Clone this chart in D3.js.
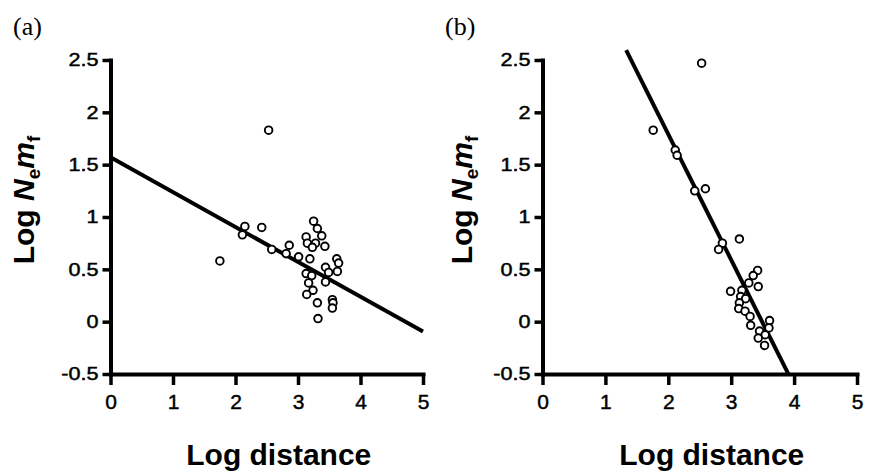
<!DOCTYPE html>
<html>
<head>
<meta charset="utf-8">
<script src="https://cdn.jsdelivr.net/npm/d3@7"></script>
<style>
  html, body { margin: 0; padding: 0; background: #fff; }
  svg { display: block; }
</style>
</head>
<body>
<svg id="chart" width="870" height="472"></svg>
<script>
// ---- data ----
const panelLabels = ["(a)", "(b)"];
const xTicks = [0, 1, 2, 3, 4, 5];
const yTicks = [-0.5, 0, 0.5, 1, 1.5, 2, 2.5];
const xTitle = "Log distance";

const aX = [2.53,1.75,2.15,2.11,2.42,2.58,2.81,2.86,3.01,3.25,3.31,3.38,3.13,3.15,3.28,3.23,3.43,3.19,3.62,3.65,3.44,3.49,3.63,3.13,3.22,3.44,3.17,3.24,3.14,3.31,3.55,3.56,3.55,3.32];
const aY = [1.83,0.58,0.91,0.83,0.90,0.69,0.65,0.73,0.62,0.96,0.89,0.82,0.81,0.75,0.75,0.71,0.72,0.60,0.60,0.56,0.52,0.47,0.48,0.46,0.44,0.38,0.37,0.30,0.26,0.18,0.21,0.18,0.13,0.03];
const aFit = [1.57, -0.333];     // intercept, slope
const aFitRange = [0, 5];

const bX = [2.53,1.76,2.11,2.14,2.42,2.59,2.86,2.80,3.13,3.42,3.35,3.28,3.43,2.99,3.17,3.15,3.23,3.13,3.12,3.22,3.30,3.31,3.61,3.60,3.45,3.54,3.43,3.53];
const bY = [2.47,1.83,1.64,1.59,1.25,1.27,0.75,0.69,0.79,0.49,0.44,0.37,0.335,0.29,0.30,0.24,0.22,0.18,0.125,0.10,0.05,-0.035,0.01,-0.06,-0.09,-0.125,-0.157,-0.227];
const bFit = [4.19, -1.2];
const bFitRange = [1.33, 3.91];

// ---- layout ----
const svg = d3.select("#chart");
const panels = [
  {label: panelLabels[0], xs: aX, ys: aY, fit: aFit, fitRange: aFitRange, left: 110.5, right: 423, labelX: 13, titleX: 33.5},
  {label: panelLabels[1], xs: bX, ys: bY, fit: bFit, fitRange: bFitRange, left: 542.5, right: 857, labelX: 445, titleX: 472}
];
const plotTop = 60, plotBottom = 374;
const yLabelStretch = 1.2;

panels.forEach(p => {
  const x = d3.scaleLinear().domain([0, 5]).range([p.left, p.right]);
  const y = d3.scaleLinear().domain([-0.5, 2.5]).range([plotBottom, plotTop]);
  const g = svg.append("g");

  // regression line
  const line = d3.line().x(d => x(d)).y(d => y(p.fit[0] + p.fit[1] * d));
  g.append("path")
    .datum(p.fitRange)
    .attr("d", line)
    .attr("fill", "none")
    .attr("stroke", "#000")
    .attr("stroke-width", 4);

  // points
  g.selectAll("circle.pt")
    .data(p.xs.map((v, i) => [v, p.ys[i]]))
    .join("circle")
    .attr("class", "pt")
    .attr("cx", d => x(d[0]))
    .attr("cy", d => y(d[1]))
    .attr("r", 3.8)
    .attr("fill", "#fff")
    .attr("stroke", "#000")
    .attr("stroke-width", 1.9);

  // axes
  const xAxis = d3.axisBottom(x).tickValues(xTicks).tickFormat(d3.format("d"))
    .tickSize(11).tickSizeOuter(0).tickPadding(9);
  const yAxis = d3.axisLeft(y).tickValues(yTicks).tickFormat(d => d === -0.5 ? "-0.5" : String(d))
    .tickSize(8).tickSizeOuter(0).tickPadding(4);

  const gx = g.append("g").attr("transform", `translate(0,${plotBottom})`).call(xAxis);
  const gy = g.append("g").attr("transform", `translate(${p.left},0)`).call(yAxis);

  [gx, gy].forEach(ax => {
    ax.select(".domain").attr("stroke", "#000").attr("stroke-width", 4).attr("stroke-linecap", "square");
    ax.selectAll(".tick line").attr("stroke", "#000").attr("stroke-width", 3.5);
    ax.selectAll(".tick text").attr("fill", "#000")
      .attr("stroke", "#000").attr("stroke-width", 0.45)
      .style("font-family", "Liberation Sans, Arial, sans-serif");
  });
  gx.selectAll(".tick text").style("font-size", "21px");
  gy.selectAll(".tick text").style("font-size", "18px")
    .attr("x", -12 / yLabelStretch)
    .attr("transform", `scale(${yLabelStretch},1)`);

  // x title
  g.append("text")
    .attr("x", (p.left + p.right) / 2 + 12)
    .attr("y", 465)
    .attr("text-anchor", "middle")
    .style("font-family", "Liberation Sans, Arial, sans-serif")
    .style("font-weight", "bold")
    .style("font-size", "30px")
    .text(xTitle);

  // y title
  const yt = g.append("text")
    .attr("transform", `translate(${p.titleX},200) rotate(-90)`)
    .attr("text-anchor", "middle")
    .style("font-family", "Liberation Sans, Arial, sans-serif")
    .style("font-weight", "bold")
    .style("font-size", "30px");
  yt.append("tspan").text("Log ");
  yt.append("tspan").style("font-style", "italic").text("N");
  yt.append("tspan").attr("dy", 6).style("font-size", "19px").text("e");
  yt.append("tspan").attr("dy", -6).style("font-style", "italic").text("m");
  yt.append("tspan").attr("dy", 6).style("font-size", "19px").text("f");

  // panel label
  g.append("text")
    .attr("x", p.labelX)
    .attr("y", 35)
    .style("font-family", "Liberation Serif, Times New Roman, serif")
    .style("font-size", "26px")
    .text(p.label);
});
</script>
</body>
</html>
